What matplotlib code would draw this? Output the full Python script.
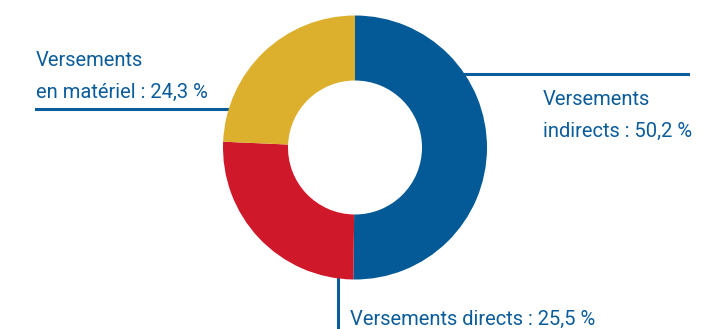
import matplotlib
matplotlib.use('Agg')
import matplotlib.pyplot as plt

labels = ['Versements\nindirects : 50,2 %', 'Versements directs : 25,5 %',
          'Versements\nen matériel : 24,3 %']
values = [50.2, 25.5, 24.3]
colors = ['#035a96', '#cf1829', '#dcb02c']
text_color = '#0b5c9b'

plt.rcParams['font.family'] = ['Roboto', 'DejaVu Sans']

W, H = 717, 329
fig = plt.figure(figsize=(W / 100, H / 100), dpi=100)
ax = fig.add_axes([0, 0, 1, 1])

cx, cy = 355, H - 147.5

# leader lines (behind the ring)
ax.plot([465, 688], [H - 74, H - 74], color=text_color, lw=2.2, zorder=1)
ax.plot([36, 228], [H - 109, H - 109], color=text_color, lw=2.2, zorder=1)
ax.plot([338, 338], [H - 278, 0], color=text_color, lw=2.2, zorder=1)

ax.pie(values, colors=colors, startangle=90, counterclock=False,
       radius=132, center=(cx, cy),
       wedgeprops=dict(width=65, edgecolor='none'), frame=True)
ax.set_xlim(0, W)
ax.set_ylim(0, H)
ax.set_aspect('equal')
ax.axis('off')

fs = 14.5
spots = [(543, [105, 137]), (350, [325]), (36, [66, 98])]
for lab, (x, ys) in zip(labels, spots):
    for line, y in zip(lab.split('\n'), ys):
        ax.text(x, H - y, line, color=text_color, fontsize=fs,
                ha='left', va='baseline')

fig.savefig('out.png', dpi=100)
